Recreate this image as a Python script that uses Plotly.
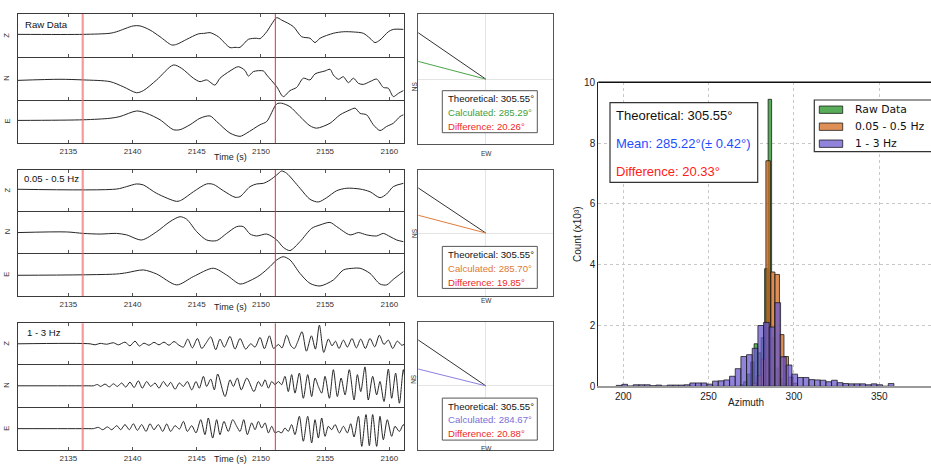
import math
import plotly.graph_objects as go

W, H = 931, 469

# ---------------- data ----------------
time_range = [2131.08, 2161.14]
time_ticks = [2135, 2140, 2145, 2150, 2155, 2160]
pick_p = 2136.12
pick_s = 2151.12

band_labels = ["Raw Data", "0.05 - 0.5 Hz", "1 - 3 Hz"]
components = ["Z", "N", "E"]

raw_z = [(2131.08, 0.06), (2136.17, 0.06), (2138.25, 0.11), (2138.76, 0.18), (2140.06, 0.45), (2140.58, 0.45),
         (2141.36, 0.26), (2142.14, -0.05), (2143.05, -0.43), (2143.44, -0.40), (2144.22, -0.17), (2145.12, 0.08),
         (2145.64, 0.11), (2146.03, 0.14), (2146.68, -0.05), (2147.59, -0.55), (2147.98, -0.54), (2148.37, -0.54),
         (2149.02, -0.17), (2149.67, -0.12), (2149.93, -0.14), (2150.45, 0.18), (2150.84, 0.54), (2151.23, 0.83),
         (2151.61, 0.72), (2152.52, 0.42), (2153.17, -0.05), (2153.82, -0.12), (2154.21, -0.32), (2154.60, -0.12),
         (2155.64, 0.11), (2156.42, 0.18), (2157.20, 0.17), (2157.97, 0.11), (2158.49, -0.12), (2158.88, -0.32),
         (2159.27, -0.20), (2159.92, 0.18), (2160.31, 0.29), (2161.09, 0.29)]
raw_n = [(2131.08, -0.08), (2134.35, -0.03), (2136.17, -0.06), (2138.25, -0.14), (2139.28, -0.38), (2140.32, -0.66),
         (2140.84, -0.56), (2141.88, -0.06), (2143.18, 0.64), (2143.83, 0.48), (2144.74, 0.02), (2145.25, -0.14),
         (2145.77, -0.06), (2146.42, -0.30), (2146.81, 0.02), (2147.59, 0.36), (2148.24, 0.56), (2148.76, 0.38),
         (2149.02, 0.12), (2149.41, 0.33), (2150.19, 0.36), (2150.45, 0.17), (2151.23, -0.38), (2151.74, -0.84),
         (2152.26, -0.56), (2152.78, -0.41), (2153.30, 0.02), (2153.82, -0.06), (2154.21, 0.22), (2154.99, 0.36),
         (2155.38, 0.44), (2155.64, 0.17), (2156.03, -0.03), (2156.42, 0.09), (2156.81, -0.19), (2157.20, 0.02),
         (2157.59, -0.22), (2157.97, -0.27), (2158.49, -0.14), (2159.01, -0.02), (2159.53, -0.41), (2159.92, -0.45),
         (2160.31, -0.84), (2160.70, -0.69), (2161.09, -0.56)]
raw_e = [(2131.08, 0.05), (2136.17, 0.08), (2138.25, 0.15), (2139.02, 0.23), (2140.32, 0.49), (2141.10, 0.38),
         (2142.14, 0.08), (2143.18, -0.38), (2143.70, -0.38), (2144.48, -0.15), (2145.25, 0.15), (2146.03, 0.26),
         (2146.55, 0.0), (2147.59, -0.54), (2148.37, -0.69), (2148.89, -0.54), (2149.93, -0.15), (2150.45, 0.0),
         (2151.23, 0.82), (2151.61, 0.85), (2152.26, 0.69), (2153.04, 0.23), (2153.82, -0.20), (2154.34, -0.31),
         (2155.38, -0.08), (2156.16, 0.31), (2156.94, 0.54), (2157.33, 0.62), (2157.72, 0.38), (2158.23, 0.31),
         (2158.75, -0.15), (2159.27, -0.42), (2159.79, -0.23), (2160.31, -0.08), (2160.83, 0.23), (2161.09, 0.31)]

lf_z = [(2131.08, 0.06), (2138.76, 0.07), (2139.54, 0.19), (2140.32, 0.32), (2140.84, 0.27), (2141.88, -0.14),
        (2143.44, -0.53), (2143.83, -0.46), (2144.74, -0.06), (2145.77, 0.32), (2146.29, 0.30), (2147.07, -0.01),
        (2147.98, -0.33), (2148.37, -0.30), (2149.15, 0.19), (2149.67, 0.32), (2150.19, 0.35), (2150.71, 0.51),
        (2151.23, 0.76), (2151.61, 0.95), (2152.00, 0.84), (2153.04, 0.11), (2153.82, -0.43), (2154.47, -0.56),
        (2155.12, -0.35), (2155.90, -0.01), (2156.68, 0.11), (2157.72, 0.07), (2158.49, -0.06), (2159.27, -0.35),
        (2159.79, -0.17), (2160.31, 0.19), (2161.09, 0.35)]
lf_n = [(2131.08, -0.02), (2134.87, 0.01), (2136.17, -0.06), (2137.47, -0.09), (2138.76, -0.06), (2139.54, -0.13),
        (2140.71, -0.37), (2141.88, 0.02), (2142.92, 0.50), (2143.70, 0.73), (2144.22, 0.61), (2145.00, 0.02),
        (2145.77, -0.37), (2146.55, -0.40), (2147.33, -0.06), (2148.11, 0.26), (2148.63, 0.26), (2149.15, -0.09),
        (2149.67, -0.18), (2150.45, -0.09), (2151.23, -0.37), (2151.74, -0.72), (2152.26, -0.87), (2153.04, -0.45),
        (2153.95, 0.18), (2154.60, 0.34), (2155.38, 0.46), (2155.90, 0.26), (2156.94, -0.13), (2157.59, -0.02),
        (2158.23, -0.13), (2159.01, -0.18), (2159.53, -0.06), (2160.05, -0.21), (2160.57, -0.37), (2161.09, -0.45)]
lf_e = [(2131.08, -0.03), (2138.76, 0.03), (2139.54, 0.09), (2140.84, 0.22), (2141.88, 0.03), (2143.44, -0.48),
        (2144.74, -0.09), (2146.29, 0.30), (2147.33, -0.02), (2148.37, -0.44), (2149.15, -0.28), (2149.93, -0.02),
        (2150.71, 0.38), (2151.23, 0.69), (2151.74, 0.84), (2152.26, 0.69), (2153.04, 0.06), (2153.82, -0.41),
        (2154.60, -0.53), (2155.64, -0.25), (2156.42, 0.22), (2157.20, 0.30), (2157.72, 0.30), (2158.49, 0.06),
        (2159.27, -0.44), (2159.79, -0.48), (2160.31, -0.22), (2161.09, 0.14)]

hf_z = [(2131.08, 0.0), (2136.69, 0.0), (2137.08, -0.05), (2137.47, 0.02), (2137.99, -0.02), (2138.51, 0.05),
        (2138.90, -0.05), (2139.41, 0.08), (2139.80, -0.10), (2140.19, 0.13), (2140.53, -0.11), (2140.89, 0.03),
        (2141.28, -0.07), (2141.67, 0.07), (2142.06, -0.05), (2142.45, 0.08), (2142.84, -0.07), (2143.23, 0.11),
        (2143.62, -0.07), (2143.96, -0.16), (2144.30, 0.23), (2144.66, -0.20), (2145.05, 0.26), (2145.39, -0.23),
        (2145.72, 0.03), (2146.09, 0.34), (2146.48, -0.29), (2146.81, 0.23), (2147.15, -0.16), (2147.59, 0.36),
        (2147.98, -0.26), (2148.37, 0.26), (2148.81, -0.26), (2149.20, 0.0), (2149.54, -0.16), (2149.93, 0.31),
        (2150.27, -0.24), (2150.66, 0.39), (2150.99, -0.23), (2151.36, -0.03), (2151.64, -0.20), (2152.00, 0.42),
        (2152.34, -0.10), (2152.60, -0.23), (2152.86, 0.10), (2153.20, 0.59), (2153.54, -0.36), (2153.93, 0.39),
        (2154.24, -0.26), (2154.55, 0.91), (2154.89, -0.42), (2155.25, 0.23), (2155.54, -0.10), (2155.80, 0.13),
        (2156.08, -0.23), (2156.42, 0.18), (2156.73, -0.16), (2157.09, 0.26), (2157.43, -0.20), (2157.77, 0.23),
        (2158.13, -0.23), (2158.49, 0.26), (2158.86, -0.15), (2159.22, 0.42), (2159.58, -0.03), (2159.92, 0.18),
        (2160.26, -0.23), (2160.62, 0.13), (2160.96, -0.07), (2161.14, -0.03)]
hf_n = [(2131.08, 0.0), (2136.60, 0.0), (2136.95, 0.0), (2137.26, 0.06), (2137.52, -0.03), (2137.86, 0.08),
        (2138.19, -0.05), (2138.51, 0.09), (2138.82, -0.03), (2139.15, 0.13), (2139.47, -0.06), (2139.80, 0.17),
        (2140.12, -0.08), (2140.45, 0.23), (2140.76, -0.11), (2141.10, 0.20), (2141.41, -0.03), (2141.75, 0.13),
        (2142.06, -0.11), (2142.40, 0.20), (2142.71, -0.03), (2142.97, 0.16), (2143.31, -0.16), (2143.65, 0.13),
        (2143.96, -0.03), (2144.27, 0.20), (2144.61, -0.19), (2144.94, 0.20), (2145.20, -0.11), (2145.52, 0.44),
        (2145.77, -0.03), (2146.09, 0.31), (2146.37, -0.19), (2146.63, 0.55), (2147.20, -0.50), (2147.59, 0.28),
        (2147.85, -0.03), (2148.16, 0.36), (2148.47, -0.19), (2148.90, 0.36), (2149.45, -0.27), (2149.80, 0.20),
        (2150.06, -0.03), (2150.32, 0.28), (2150.58, -0.11), (2150.84, 0.20), (2151.10, 0.05), (2151.36, 0.20),
        (2151.61, 0.05), (2151.87, 0.44), (2152.13, -0.27), (2152.39, 0.52), (2152.65, -0.34), (2152.99, 0.59),
        (2153.30, -0.58), (2153.64, 0.52), (2153.95, -0.50), (2154.21, 0.36), (2154.47, -0.03), (2154.73, -0.34),
        (2154.99, 0.44), (2155.33, -0.58), (2155.64, 0.75), (2155.95, -0.50), (2156.24, 0.36), (2156.55, -0.42),
        (2156.88, 0.75), (2157.25, -0.66), (2157.51, 0.52), (2157.77, -0.27), (2158.10, 0.88), (2158.36, -0.66),
        (2158.70, 0.44), (2159.01, -0.42), (2159.27, 0.20), (2159.58, -0.73), (2159.92, 0.78), (2160.18, -0.58),
        (2160.49, 0.59), (2160.78, -0.81), (2161.09, 0.75), (2161.30, -0.27)]
hf_e = [(2131.08, 0.0), (2136.60, 0.0), (2136.95, 0.0), (2137.34, 0.06), (2137.68, -0.05), (2138.04, 0.08),
        (2138.38, -0.05), (2138.77, 0.14), (2139.08, -0.05), (2139.41, 0.19), (2139.75, -0.05), (2140.06, 0.23),
        (2140.38, -0.08), (2140.71, 0.19), (2141.05, -0.13), (2141.36, 0.23), (2141.67, -0.05), (2142.01, 0.19),
        (2142.35, -0.13), (2142.66, 0.22), (2142.97, -0.13), (2143.31, 0.14), (2143.65, -0.02), (2143.96, 0.34),
        (2144.27, -0.13), (2144.61, 0.14), (2144.94, -0.20), (2145.31, 0.42), (2145.64, -0.28), (2145.90, 0.50),
        (2146.24, -0.44), (2146.55, 0.42), (2146.81, -0.28), (2147.12, 0.34), (2147.46, -0.13), (2147.80, 0.42),
        (2148.11, 0.11), (2148.37, -0.13), (2148.66, 0.42), (2148.94, -0.28), (2149.28, 0.27), (2149.54, -0.05),
        (2149.80, 0.34), (2150.06, 0.03), (2150.32, 0.27), (2150.58, -0.20), (2150.84, 0.11), (2151.10, -0.20),
        (2151.36, -0.13), (2151.61, -0.20), (2151.87, 0.03), (2152.13, -0.13), (2152.39, 0.19), (2152.65, -0.28),
        (2152.99, 0.58), (2153.30, -0.59), (2153.64, 0.58), (2153.95, -0.67), (2154.21, 0.42), (2154.47, -0.44),
        (2154.73, 0.50), (2154.99, -0.36), (2155.25, 0.11), (2155.51, -0.05), (2155.77, 0.19), (2156.11, -0.20),
        (2156.42, 0.11), (2156.73, -0.20), (2156.99, 0.23), (2157.25, -0.39), (2157.59, 0.58), (2157.85, -0.83),
        (2158.18, 0.66), (2158.44, -0.80), (2158.70, 0.66), (2159.01, -0.83), (2159.27, 0.58), (2159.53, -0.52),
        (2159.84, 0.42), (2160.18, -0.36), (2160.44, 0.11), (2160.78, -0.13), (2161.09, 0.19), (2161.30, -0.13)]

theoretical_az = 305.55
calculated_az = [285.29, 285.70, 284.67]
difference_az = [20.26, 19.85, 20.88]

hist_mean = 285.22
hist_std = 0.42
hist_diff = 20.33

raw_bin_width = 2.05
raw_centers = [269.50, 271.60, 273.60, 275.65, 277.70, 279.75, 281.80, 283.85, 285.90, 287.95, 290.00, 292.05, 294.10]
raw_counts = [0.05, 0.15, 0.40, 0.80, 1.40, 1.10, 1.60, 3.87, 9.44, 1.60, 0.60, 0.25, 0.10]

lf_bin_width = 2.65
lf_centers = [276.95, 279.60, 282.25, 284.90, 287.55, 290.20, 292.85, 295.50, 298.15, 300.80]
lf_counts = [0.10, 0.35, 0.90, 7.42, 3.76, 3.68, 1.70, 0.98, 0.30, 0.10]

hf_bin_width = 3.32
hf_centers = [197.56, 200.88, 204.20, 207.52, 210.84, 214.16, 217.48, 220.80, 224.12, 227.44,
              230.76, 234.08, 237.40, 240.72, 244.04, 247.36, 250.68, 254.00, 257.32, 260.64,
              263.96, 267.28, 270.60, 273.92, 277.24, 280.56, 283.88, 287.20, 290.52, 293.84,
              297.16, 300.48, 303.80, 307.12, 310.44, 313.76, 317.08, 320.40, 323.72, 327.04,
              330.36, 333.68, 337.00, 340.32, 343.64, 346.96, 350.28, 353.60, 356.92]
hf_counts = [0.03, 0.065, 0.01, 0.05, 0.05, 0.05, 0.02, 0.04, 0.01, 0.04,
             0.04, 0.04, 0.05, 0.11, 0.11, 0.11, 0.07, 0.17, 0.18, 0.21,
             0.33, 0.58, 0.98, 1.04, 1.25, 2.00, 2.10, 1.95, 2.75, 0.97,
             0.70, 0.40, 0.29, 0.29, 0.22, 0.21, 0.20, 0.15, 0.20, 0.12,
             0.09, 0.08, 0.08, 0.08, 0.05, 0.08, 0.05, 0.00, 0.09]
hist_xticks = [200, 250, 300, 350]
hist_yticks = [0, 2, 4, 6, 8, 10]

# ---------------- styling ----------------
band_fill = ["rgba(0,128,0,0.65)", "rgba(210,105,30,0.75)", "rgba(106,90,205,0.75)"]
band_line = ["#4aa34a", "#e07b39", "#8a80e0"]
band_text = ["#3d9e3d", "#dd7a35", "#7a70d8"]
FONT = "Liberation Sans, Arial, sans-serif"


def fx(p):
    return p / W


def fy(p):
    return 1 - p / H


def ids(n):
    s = "" if n == 1 else str(n)
    return f"xaxis{s}", f"yaxis{s}", f"x{s}", f"y{s}"


fig = go.Figure()
layout = dict(width=W, height=H, autosize=False, margin=dict(l=0, r=0, t=0, b=0, pad=0),
              paper_bgcolor="white", plot_bgcolor="white", showlegend=False,
              font=dict(family=FONT, color="#222"))
annotations = []
shapes = []

waves = [[raw_z, raw_n, raw_e], [lf_z, lf_n, lf_e], [hf_z, hf_n, hf_e]]
panel_rows = [(14.0, 57.3, 100.0, 143.0), (170.0, 211.0, 253.3, 296.0), (323.3, 364.3, 407.3, 450.0)]
label_pos = [(22.7, 24.3), (21.7, 178.3), (25.0, 332.3)]
time_title_y = [157.3, 314.0, 466.0]

ax = 0
for p in range(3):
    rows = panel_rows[p]
    for c in range(3):
        ax += 1
        top, bot = rows[c], rows[c + 1]
        xn, yn, xr, yr = ids(ax)
        pts = waves[p][c]
        fig.add_trace(go.Scatter(x=[q[0] for q in pts], y=[q[1] for q in pts], mode="lines",
                                 line=dict(color="#262626", width=1, shape="spline", smoothing=0.8),
                                 xaxis=xr, yaxis=yr, hoverinfo="skip"))
        layout[xn] = dict(domain=[fx(18), fx(404)], range=time_range, anchor=yr, automargin=False,
                          tickvals=time_ticks, showticklabels=(c == 2), ticks="inside", ticklen=3,
                          tickcolor="#555", showline=True, linecolor="#3a3a3a", linewidth=1.3,
                          mirror=("ticks" if c == 0 else False),
                          showgrid=False, zeroline=False, tickfont=dict(size=8, color="#333"))
        layout[yn] = dict(domain=[fy(bot), fy(top)], range=[-1, 1], anchor=xr, showticklabels=False,
                          automargin=False, ticks="", showline=True, mirror=True, linecolor="#3a3a3a",
                          linewidth=1.3, showgrid=False, zeroline=False)
        shapes.append(dict(type="line", xref=xr, yref=f"{yr} domain", x0=pick_p, x1=pick_p, y0=0, y1=1,
                           line=dict(color="rgba(245,110,110,0.7)", width=2.2), layer="above"))
        shapes.append(dict(type="line", xref=xr, yref=f"{yr} domain", x0=pick_s, x1=pick_s, y0=0, y1=1,
                           line=dict(color="#e53333", width=1), layer="above"))
        annotations.append(dict(x=fx(7.0), y=fy((top + bot) / 2), xref="paper", yref="paper",
                                text=components[c], textangle=-90, showarrow=False,
                                xanchor="center", yanchor="middle", font=dict(size=7.5, color="#333")))
    annotations.append(dict(x=fx(label_pos[p][0]), y=fy(label_pos[p][1]), xref="paper", yref="paper",
                            text=band_labels[p], showarrow=False, xanchor="left", yanchor="middle",
                            font=dict(size=9.6, color="#111")))
    annotations.append(dict(x=fx(212), y=fy(time_title_y[p]), xref="paper", yref="paper",
                            text="Time (s)", showarrow=False, font=dict(size=9, color="#222")))

# ---------------- compass panels ----------------
compass_rows = [(14.3, 144.0), (170.0, 296.0), (321.7, 450.0)]
for i in range(3):
    ax += 1
    top, bot = compass_rows[i]
    xn, yn, xr, yr = ids(ax)
    layout[xn] = dict(domain=[fx(418.3), fx(553.3)], range=[-1, 1], anchor=yr, showticklabels=False,
                      automargin=False, ticks="", showline=True, mirror=True, linecolor="#555", linewidth=1,
                      showgrid=False, zeroline=True, zerolinecolor="#e4e4e4", zerolinewidth=1)
    layout[yn] = dict(domain=[fy(bot), fy(top)], range=[-1, 1], anchor=xr, showticklabels=False,
                      automargin=False, ticks="", showline=True, mirror=True, linecolor="#555", linewidth=1,
                      showgrid=False, zeroline=True, zerolinecolor="#e4e4e4", zerolinewidth=1)
    for az, col in [(theoretical_az, "#333333"), (calculated_az[i], band_line[i])]:
        r = math.radians(az)
        fig.add_trace(go.Scatter(x=[0, 2 * math.sin(r)], y=[0, 2 * math.cos(r)], mode="lines",
                                 line=dict(color=col, width=1), xaxis=xr, yaxis=yr, hoverinfo="skip"))
    shapes.append(dict(type="rect", xref="paper", yref="paper", x0=fx(442.3), x1=fx(537.3),
                       y0=fy(top + 118.4), y1=fy(top + 76.4), line=dict(color="#555", width=1),
                       fillcolor="white", layer="above"))
    lines = [(f"Theoretical: {theoretical_az:.2f}°", "#111"),
             (f"Calculated: {calculated_az[i]:.2f}°", band_text[i]),
             (f"Difference: {difference_az[i]:.2f}°", "#f02828")]
    for k, (txt, col) in enumerate(lines):
        annotations.append(dict(x=fx(445.7), y=fy(top + 84.4 + 13.8 * k), xref="paper", yref="paper",
                                text=txt, showarrow=False, xanchor="left", yanchor="middle",
                                font=dict(size=9.6, color=col)))
    annotations.append(dict(x=fx(414.0), y=fy((top + bot) / 2), xref="paper", yref="paper", text="NS",
                            textangle=-90, showarrow=False, font=dict(size=6.5, color="#333")))
    annotations.append(dict(x=fx(486.0), y=fy(bot + 4.0), xref="paper", yref="paper", text="EW",
                            showarrow=False, font=dict(size=6.5, color="#333")))

# ---------------- histogram ----------------
ax += 1
xn, yn, xr, yr = ids(ax)
for centers, counts, width, fill in [(raw_centers, raw_counts, raw_bin_width, band_fill[0]),
                                      (lf_centers, lf_counts, lf_bin_width, band_fill[1]),
                                      (hf_centers, hf_counts, hf_bin_width, band_fill[2])]:
    fig.add_trace(go.Bar(x=centers, y=counts, width=width, xaxis=xr, yaxis=yr,
                         marker=dict(color=fill, line=dict(color="rgba(20,20,20,0.75)", width=1)),
                         hoverinfo="skip"))
layout["barmode"] = "overlay"
layout[xn] = dict(domain=[fx(598.3), 1.0], range=[185.4, 380.3], anchor=yr, tickvals=hist_xticks,
                  automargin=False, ticks="", showline=True, linecolor="#9a9a9a", linewidth=2, mirror=False,
                  showgrid=True, gridcolor="#c8c8c8", griddash="dot", gridwidth=1, zeroline=False,
                  tickfont=dict(size=10, color="#222"))
layout[yn] = dict(domain=[fy(386.3), fy(82.3)], range=[0, 10], anchor=xr, tickvals=hist_yticks,
                  automargin=False, ticks="", showline=True, linecolor="#222", linewidth=1.2, mirror=False,
                  showgrid=True, gridcolor="#c8c8c8", griddash="dot", gridwidth=1, zeroline=False,
                  tickfont=dict(size=10, color="#222"))
shapes.append(dict(type="line", xref="paper", yref="paper", x0=fx(598.3), x1=1.0, y0=fy(82.3), y1=fy(82.3),
                   line=dict(color="#111", width=1.5)))
annotations.append(dict(x=fx(578), y=fy(234), xref="paper", yref="paper", text="Count (x10³)",
                        textangle=-90, showarrow=False, font=dict(size=10, color="#222")))
annotations.append(dict(x=fx(766), y=fy(410), xref="paper", yref="paper", text="Azimuth",
                        showarrow=False, font=dict(size=10, color="#222")))

# stats box
shapes.append(dict(type="rect", xref="paper", yref="paper", x0=fx(610), x1=fx(757.7), y0=fy(182.3),
                   y1=fy(102.7), line=dict(color="#333", width=1.2), fillcolor="white", layer="above"))
stats = [(f"Theoretical: {theoretical_az:.2f}°", "#111"),
         (f"Mean: {hist_mean:.2f}°(± {hist_std:.2f}°)", "#1f4cff"),
         (f"Difference: {hist_diff:.2f}°", "#ff2020")]
for k, (txt, col) in enumerate(stats):
    annotations.append(dict(x=fx(614.3), y=fy([115.7, 143.3, 171.7][k]), xref="paper", yref="paper",
                            text=txt, showarrow=False, xanchor="left", yanchor="middle",
                            font=dict(size=13, color=col)))

# legend
shapes.append(dict(type="rect", xref="paper", yref="paper", x0=fx(814.3), x1=fx(936), y0=fy(151.7),
                   y1=fy(100), line=dict(color="#333", width=1.2), fillcolor="white", layer="above"))
for k in range(3):
    cy = [109.7, 126.7, 143.7][k]
    shapes.append(dict(type="rect", xref="paper", yref="paper", x0=fx(819.3), x1=fx(842.7),
                       y0=fy(cy + 3.7), y1=fy(cy - 3.7), line=dict(color="rgba(20,20,20,0.75)", width=1),
                       fillcolor=band_fill[k], layer="above"))
    annotations.append(dict(x=fx(852.7), y=fy(cy), xref="paper", yref="paper", text=band_labels[k],
                            showarrow=False, xanchor="left", yanchor="middle",
                            font=dict(size=10.8, color="#111", family="DejaVu Sans, sans-serif")))

layout["annotations"] = annotations
layout["shapes"] = shapes
fig.update_layout(**layout)
fig.write_html("out.html", config={"displayModeBar": False},
               post_script="document.body.style.margin='0';document.body.style.overflow='hidden';")
